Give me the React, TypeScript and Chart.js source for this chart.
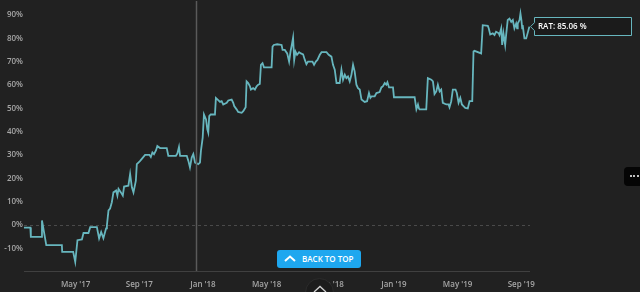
import React, { useEffect, useRef } from "react";
import { Chart, registerables } from "chart.js";
Chart.register(...registerables);

// x = months since Jan 2017 (0 = Jan 1 2017), y = return in %
const months = [
  0.71, 1.15, 1.18, 1.82, 1.88, 2.15, 3.13, 3.15, 3.84, 3.97,
  4.11, 4.39, 4.49, 4.80, 4.91, 5.33, 5.47, 5.60, 5.74, 5.91,
  5.96, 6.06, 6.16, 6.27, 6.37, 6.54, 6.62, 6.69, 6.84, 6.96,
  7.04, 7.31, 7.42, 7.53, 7.63, 7.78, 7.84, 7.94, 8.05, 8.22,
  8.36, 8.63, 8.72, 8.82, 8.92, 9.05, 9.13, 9.30, 9.72, 9.82,
  10.30, 10.39, 10.49, 10.56, 10.98, 11.08, 11.18, 11.29, 11.39, 11.50,
  11.70, 11.81, 11.87, 11.98, 12.06, 12.19, 12.27, 12.33, 12.39, 12.48,
  12.75, 12.81, 13.07, 13.17, 13.27, 13.49, 13.59, 13.80, 13.90, 13.96,
  14.11, 14.21, 14.43, 14.53, 14.68, 14.74, 14.84, 14.95, 15.01, 15.15,
  15.26, 15.37, 15.47, 15.57, 15.64, 15.74, 15.83, 16.31, 16.37, 16.45,
  16.66, 16.94, 17.00, 17.14, 17.29, 17.41, 17.50, 17.56, 17.66, 17.73,
  17.81, 17.91, 18.04, 18.15, 18.29, 18.40, 18.50, 18.60, 18.88, 18.98,
  19.09, 19.19, 19.34, 19.45, 19.76, 19.90, 20.07, 20.17, 20.28, 20.39,
  20.59, 20.70, 20.80, 20.91, 21.01, 21.11, 21.22, 21.33, 21.43, 21.53,
  21.64, 21.74, 21.85, 21.96, 22.16, 22.31, 22.43, 22.52, 22.60, 22.79,
  22.90, 23.10, 23.21, 23.31, 23.42, 23.52, 23.59, 23.69, 23.94, 24.00,
  25.30, 25.41, 25.51, 25.57, 25.61, 26.03, 26.13, 26.35, 26.45, 26.55,
  26.66, 26.76, 26.87, 26.97, 27.07, 27.29, 27.43, 27.49, 27.60, 27.70,
  27.87, 27.95, 28.06, 28.17, 28.27, 28.37, 28.48, 28.64, 28.75, 28.92,
  29.00, 29.06, 29.48, 29.58, 29.90, 29.96, 30.05, 30.21, 30.32, 30.42,
  30.59, 30.63, 30.74, 30.80, 30.88, 30.99, 31.05, 31.15, 31.26, 31.37,
  31.47, 31.57, 31.68, 31.74, 31.78, 31.89, 31.95, 32.01, 32.06, 32.09,
  32.20, 32.31, 32.41, 32.51,
];

const ratPct = [
  -1.1, -1.1, -5.1, -5.1, 2.0, -8.6, -8.6, -11.5, -11.5, -15.8,
  -6.5, -6.2, -3.4, -3.4, -0.9, -0.9, -5.7, -3.0, -5.7, -1.4,
  -0.1, 6.3, 7.1, 9.8, 14.0, 14.8, 12.6, 15.5, 14.0, 12.6,
  16.5, 16.9, 21.9, 16.2, 14.0, 19.0, 26.1, 26.8, 27.5, 28.9,
  30.1, 30.1, 29.2, 31.1, 30.4, 32.1, 33.9, 33.0, 33.0, 29.7,
  29.7, 30.7, 33.5, 29.7, 29.7, 27.5, 24.7, 28.9, 30.4, 26.8,
  26.1, 26.8, 31.8, 37.5, 47.4, 45.3, 41.0, 39.6, 46.7, 47.4,
  47.4, 54.5, 52.8, 53.1, 51.7, 52.4, 53.4, 53.8, 52.4, 51.0,
  49.6, 48.5, 48.1, 48.8, 50.5, 61.6, 60.9, 59.5, 58.1, 58.7,
  58.1, 59.5, 60.2, 60.5, 68.7, 69.4, 67.6, 67.6, 76.5, 77.2,
  77.5, 77.2, 75.1, 75.1, 73.6, 70.1, 74.4, 76.5, 80.3, 70.8,
  74.4, 73.0, 74.1, 73.6, 73.2, 70.8, 69.0, 70.1, 70.1, 68.7,
  70.1, 70.8, 73.0, 74.1, 74.1, 73.0, 72.2, 68.7, 66.6, 60.9,
  60.9, 66.6, 62.3, 64.5, 63.0, 63.7, 61.6, 64.5, 68.7, 65.9,
  60.2, 58.7, 58.1, 53.8, 52.8, 53.1, 56.6, 54.5, 55.2, 55.2,
  56.6, 57.0, 59.0, 59.5, 60.9, 60.2, 61.2, 59.0, 59.0, 54.8,
  54.8, 49.6, 51.7, 50.0, 49.6, 49.6, 63.0, 62.3, 61.6, 56.2,
  57.3, 60.2, 57.3, 58.1, 52.4, 51.7, 51.7, 50.5, 53.1, 58.1,
  58.1, 56.6, 52.4, 54.5, 51.7, 51.0, 50.2, 50.0, 53.1, 53.1,
  74.4, 74.7, 73.6, 85.7, 85.4, 84.3, 81.7, 82.2, 81.5, 82.9,
  82.2, 81.5, 84.3, 77.2, 82.2, 77.2, 81.5, 87.9, 88.5, 87.1,
  87.9, 84.3, 86.4, 84.3, 86.4, 87.9, 90.7, 87.9, 84.3, 85.7,
  80.0, 80.0, 82.5, 85.06,
];

const xTickValues = [4, 8, 12, 16, 20, 24, 28, 32];
const xTickLabels = ["May '17", "Sep '17", "Jan '18", "May '18", "Sep '18", "Jan '19", "May '19", "Sep '19"];
const yTickValues = [-10, 0, 10, 20, 30, 40, 50, 60, 70, 80, 90];
const seriesName = "RAT";
const crosshairMonth = 11.56;

const LINE = "#67b6be";
const FONT = "'Open Sans', 'Noto Sans', sans-serif";
const TICK = "#a6a6a6";

export default function App() {
  const ref = useRef<HTMLCanvasElement>(null);

  useEffect(() => {
    const overlay = {
      id: "overlay",
      afterDatasetsDraw(chart: any) {
        const ctx = chart.ctx;
        const xs = chart.scales.x;
        const area = chart.chartArea;
        const cx = Math.round(xs.getPixelForValue(crosshairMonth)) + 0.5;
        ctx.save();
        ctx.strokeStyle = "#5a5a5a";
        ctx.lineWidth = 1.5;
        ctx.beginPath();
        ctx.moveTo(cx, 1);
        ctx.lineTo(cx, area.bottom);
        ctx.stroke();
        // x axis line
        ctx.strokeStyle = "#404040";
        ctx.lineWidth = 1;
        ctx.beginPath();
        ctx.moveTo(area.left, Math.round(area.bottom) + 0.5);
        ctx.lineTo(area.right, Math.round(area.bottom) + 0.5);
        ctx.stroke();
        ctx.restore();
      },
      afterDraw(chart: any) {
        const ctx = chart.ctx;
        const meta = chart.getDatasetMeta(0);
        const last = meta.data[meta.data.length - 1];
        const px = last.x;
        const py = last.y;
        const val = ratPct[ratPct.length - 1];
        const bx = Math.round(px + 5) + 0.5;
        const top = Math.round(py - 9.5) + 0.5;
        const w = 97;
        const h = 18;
        ctx.save();
        ctx.fillStyle = "#1b1b1b";
        ctx.strokeStyle = LINE;
        ctx.lineWidth = 1;
        ctx.beginPath();
        ctx.moveTo(bx, top);
        ctx.lineTo(bx + w, top);
        ctx.lineTo(bx + w, top + h);
        ctx.lineTo(bx, top + h);
        ctx.lineTo(bx, py + 4);
        ctx.lineTo(bx - 4, py);
        ctx.lineTo(bx, py - 4);
        ctx.closePath();
        ctx.fill();
        ctx.stroke();
        ctx.fillStyle = "#ffffff";
        ctx.font = `600 8px ${FONT}`;
        ctx.textBaseline = "middle";
        ctx.textAlign = "left";
        ctx.fillText(`${seriesName}: ${val.toFixed(2)} %`, bx + 3.5, top + h / 2 + 0.5);
        ctx.restore();
      },
    };

    const chart = new Chart(ref.current as HTMLCanvasElement, {
      type: "line",
      data: {
        datasets: [
          {
            label: seriesName,
            data: months.map((m, i) => ({ x: m, y: ratPct[i] })),
            borderColor: LINE,
            borderWidth: 1.8,
            pointRadius: 0,
            pointHoverRadius: 0,
            tension: 0,
            fill: false,
          },
        ],
      },
      options: {
        responsive: false,
        animation: false,
        devicePixelRatio: 1,
        layout: { padding: { left: 0, right: 110, top: 4, bottom: 0 } },
        plugins: { legend: { display: false }, tooltip: { enabled: false } },
        scales: {
          x: {
            type: "linear",
            min: 0.75,
            max: 32.55,
            grid: { display: false },
            border: { display: false },
            afterBuildTicks: (s: any) => {
              s.ticks = xTickValues.map((v) => ({ value: v }));
            },
            afterFit: (s: any) => {
              s.height = 21;
            },
            ticks: {
              autoSkip: false,
              maxRotation: 0,
              color: TICK,
              font: { family: FONT, size: 8, weight: "600" },
              padding: 1,
              callback: (_v: any, i: number) => xTickLabels[i],
            },
          },
          y: {
            min: -19.7,
            max: 94,
            afterBuildTicks: (s: any) => {
              s.ticks = yTickValues.map((v) => ({ value: v }));
            },
            afterFit: (s: any) => {
              s.width = 24;
            },
            grid: {
              drawTicks: false,
              lineWidth: 1,
              color: (c: any) => (c.tick && c.tick.value === 0 ? "#4a4a4a" : "rgba(0,0,0,0)"),
            },
            border: { display: false, dash: [3, 3] },
            ticks: {
              color: TICK,
              font: { family: FONT, size: 8, weight: "600" },
              padding: 1,
              callback: (v: any) => `${v}%`,
            },
          },
        },
      },
      plugins: [overlay],
    } as any);
    return () => chart.destroy();
  }, []);

  return (
    <div style={{ position: "fixed", left: 0, top: 0, width: 640, height: 292, background: "#212121", overflow: "hidden" }}>
      <canvas ref={ref} width={640} height={292} style={{ position: "absolute", left: 0, top: 0, width: 640, height: 292 }} />
      <div
        style={{
          position: "absolute", left: 277, top: 250, width: 84, height: 18, background: "#1ea7ef",
          borderRadius: 3, color: "#fff", fontFamily: FONT, fontSize: 8, fontWeight: 600,
        }}
      >
        <svg width="12" height="8" style={{ position: "absolute", left: 7, top: 5 }}>
          <polyline points="1,6 6,1.5 11,6" fill="none" stroke="#fff" strokeWidth="2" />
        </svg>
        <span style={{ position: "absolute", left: 25, top: 3, lineHeight: "12px", whiteSpace: "nowrap" }}>BACK TO TOP</span>
      </div>
      <div
        style={{
          position: "absolute", left: 305, top: 278, width: 29, height: 29, borderRadius: "50%",
          background: "#1c1c1c", border: "1px solid #2c2c2c", boxSizing: "border-box",
        }}
      >
        <svg width="14" height="8" style={{ position: "absolute", left: 6.5, top: 6 }}>
          <polyline points="1,7 7,1.5 13,7" fill="none" stroke="#cfcfcf" strokeWidth="1.3" />
        </svg>
      </div>
      <div
        style={{
          position: "absolute", left: 624, top: 167, width: 16, height: 19, background: "#050505",
          borderRadius: "4px 0 0 4px",
        }}
      >
        {[0, 1, 2].map((i) => (
          <div key={i} style={{ position: "absolute", left: 6 + i * 3.3, top: 8, width: 2, height: 2, borderRadius: 1, background: "#fff" }} />
        ))}
      </div>
    </div>
  );
}
